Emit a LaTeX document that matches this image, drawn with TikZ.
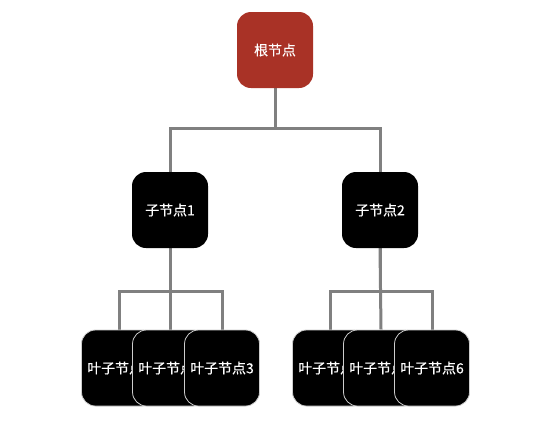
\documentclass[tikz,border=0pt]{standalone}
\usepackage{fontspec}
\setmainfont{Noto Sans CJK SC}[FakeBold=0.35]
\usepackage{tikz}
\usetikzlibrary{positioning,calc,backgrounds}
\definecolor{tRed}{RGB}{169,50,38}
\definecolor{tLine}{RGB}{128,128,128}
\definecolor{tEdge}{RGB}{205,205,205}

\begin{document}
\begin{tikzpicture}[x=1bp,y=-1bp,
  rootbox/.style={fill=tRed,rounded corners=14bp,minimum width=76bp,minimum height=76bp,text=white,font=\fontsize{14}{16}\selectfont},
  midbox/.style={fill=black,rounded corners=14bp,minimum width=76bp,minimum height=76bp,text=white,font=\fontsize{14}{16}\selectfont},
  leafbox/.style={fill=black,draw=tEdge,line width=0.8bp,rounded corners=14bp,minimum width=75bp,minimum height=76bp,text=white,font=\fontsize{14}{16}\selectfont},
  link/.style={draw=tLine,line width=3bp}]
\useasboundingbox (0,0) rectangle (550,420);
\node[rootbox] (root) at (275,50) {根节点};
\node[midbox] (child1) at (170,210) {子节点1};
\node[midbox] (child2) at (380,210) {子节点2};
\node[leafbox] (leaf1) at (119,368) {叶子节点1};
\node[leafbox] (leaf2) at (170,368) {叶子节点2};
\node[leafbox] (leaf3) at (222,368) {叶子节点3};
\node[leafbox] (leaf4) at (330,368) {叶子节点4};
\node[leafbox] (leaf5) at (381,368) {叶子节点5};
\node[leafbox] (leaf6) at (432,368) {叶子节点6};
% tree lines behind the boxes
\begin{scope}[on background layer]
\draw[link] (root.south) -- ++(0,40) -| (child1.north);
\draw[link] (root.south) -- ++(0,40) -| (child2.north);
\draw[link] (child1.south) -- ++(0,43) -| (leaf1.north);
\draw[link] (child1.south) -- (leaf2.north);
\draw[link] (child1.south) -- ++(0,43) -| (leaf3.north);
\draw[link] (child2.south) -- ++(0,43) -| (leaf4.north);
\draw[link] (child2.south) -- (leaf5.north);
\draw[link] (child2.south) -- ++(0,43) -| (leaf6.north);
\end{scope}
\end{tikzpicture}
\end{document}
